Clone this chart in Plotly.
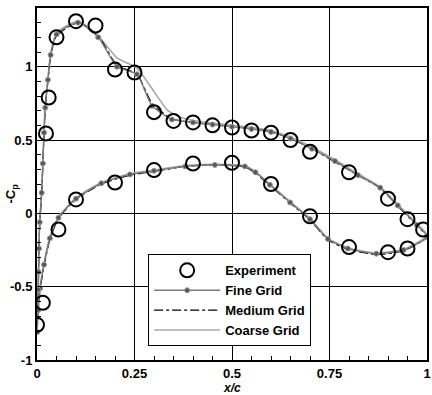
import plotly.graph_objects as go

# Experiment
exp_x = [0.0, 0.015, 0.023, 0.03, 0.05, 0.1, 0.15, 0.2, 0.25, 0.3, 0.35, 0.4, 0.45, 0.5, 0.55, 0.6, 0.65, 0.7, 0.8, 0.9, 0.95, 0.99,
         0.055, 0.1, 0.2, 0.3, 0.4, 0.5, 0.6, 0.7, 0.8, 0.9, 0.95]
exp_cp = [-0.76, -0.61, 0.545, 0.79, 1.2, 1.31, 1.28, 0.98, 0.96, 0.69, 0.63, 0.62, 0.60, 0.585, 0.565, 0.55, 0.50, 0.42, 0.28, 0.10, -0.04, -0.11,
          -0.11, 0.095, 0.21, 0.295, 0.34, 0.345, 0.2, -0.02, -0.23, -0.265, -0.24]

# Fine grid (loop: lower TE -> stagnation -> upper TE)
fine_x = [1.0, 0.94, 0.87, 0.797, 0.746, 0.70, 0.649, 0.597, 0.56, 0.533, 0.456, 0.38, 0.30, 0.238, 0.165, 0.10, 0.055, 0.033, 0.018, 0.008, 0.003,
          0.0,
          0.003, 0.004, 0.005, 0.007, 0.012, 0.015, 0.018, 0.021, 0.028, 0.035, 0.05, 0.105, 0.157, 0.205, 0.256, 0.295, 0.346, 0.40, 0.45, 0.50, 0.55, 0.60, 0.65, 0.705, 0.764, 0.823, 0.88, 0.925, 0.974, 1.0]
fine_cp = [-0.16, -0.25, -0.275, -0.24, -0.175, -0.04, 0.074, 0.195, 0.28, 0.32, 0.33, 0.32, 0.29, 0.265, 0.205, 0.10, -0.03, -0.17, -0.35, -0.51, -0.66,
           -0.81,
           -0.52, -0.40, -0.24, -0.06, 0.14, 0.34, 0.55, 0.72, 0.91, 1.08, 1.22, 1.30, 1.20, 1.0, 0.948, 0.733, 0.64, 0.62, 0.605, 0.59, 0.575, 0.555, 0.51, 0.44, 0.356, 0.26, 0.175, 0.054, -0.08, -0.16]

# Medium grid
med_x = [1.0, 0.94, 0.87, 0.797, 0.746, 0.70, 0.649, 0.597, 0.56, 0.533, 0.456, 0.38, 0.30, 0.238, 0.165, 0.10, 0.055, 0.033, 0.018, 0.008, 0.003,
         0.0,
         0.003, 0.004, 0.005, 0.007, 0.012, 0.015, 0.018, 0.021, 0.028, 0.035, 0.05, 0.105, 0.157, 0.205, 0.256, 0.295, 0.346, 0.40, 0.45, 0.50, 0.55, 0.60, 0.65, 0.705, 0.764, 0.823, 0.88, 0.925, 0.974, 1.0]
med_cp = [-0.16, -0.255, -0.28, -0.245, -0.18, -0.045, 0.07, 0.19, 0.275, 0.315, 0.33, 0.32, 0.285, 0.26, 0.20, 0.095, -0.035, -0.18, -0.36, -0.52, -0.67,
          -0.82,
          -0.53, -0.41, -0.25, -0.07, 0.13, 0.33, 0.54, 0.71, 0.90, 1.07, 1.21, 1.30, 1.21, 1.01, 0.95, 0.75, 0.645, 0.62, 0.605, 0.59, 0.575, 0.555, 0.51, 0.44, 0.35, 0.26, 0.17, 0.05, -0.085, -0.16]

# Coarse grid
coarse_x = [1.0, 0.94, 0.87, 0.797, 0.746, 0.70, 0.649, 0.597, 0.56, 0.533, 0.456, 0.38, 0.30, 0.238, 0.165, 0.10, 0.055, 0.033, 0.018, 0.008, 0.003,
            0.0,
            0.003, 0.004, 0.005, 0.007, 0.012, 0.015, 0.018, 0.021, 0.028, 0.035, 0.05, 0.105, 0.157, 0.205, 0.256, 0.30, 0.336, 0.38, 0.45, 0.50, 0.55, 0.60, 0.65, 0.705, 0.764, 0.823, 0.88, 0.925, 0.974, 1.0]
coarse_cp = [-0.15, -0.245, -0.27, -0.235, -0.17, -0.035, 0.08, 0.20, 0.285, 0.325, 0.335, 0.325, 0.295, 0.27, 0.21, 0.105, -0.025, -0.165, -0.34, -0.50, -0.65,
             -0.80,
             -0.51, -0.39, -0.23, -0.05, 0.15, 0.35, 0.56, 0.73, 0.92, 1.09, 1.23, 1.31, 1.21, 1.06, 0.99, 0.83, 0.70, 0.645, 0.615, 0.60, 0.585, 0.565, 0.52, 0.45, 0.365, 0.27, 0.18, 0.06, -0.07, -0.15]

fig = go.Figure()
fig.add_trace(go.Scatter(x=coarse_x, y=coarse_cp, mode="lines", name="Coarse Grid",
                         line=dict(color="#a8a8a8", width=1.6, shape="spline", smoothing=0.6)))
fig.add_trace(go.Scatter(x=med_x, y=med_cp, mode="lines", name="Medium Grid",
                         line=dict(color="black", width=1.2, dash="dashdot", shape="spline", smoothing=0.6)))
fig.add_trace(go.Scatter(x=fine_x, y=fine_cp, mode="lines+markers", name="Fine Grid",
                         line=dict(color="#7a7a7a", width=1.4, shape="spline", smoothing=0.6),
                         marker=dict(symbol="circle", size=5, color="#555555", line=dict(color="#999999", width=1))))
fig.add_trace(go.Scatter(x=exp_x, y=exp_cp, mode="markers", name="Experiment",
                         marker=dict(symbol="circle-open", size=14, color="black", line=dict(color="black", width=2))))

FONT = "Liberation Sans, Arial, sans-serif"

fig.update_layout(
    width=432, height=395,
    margin=dict(l=37, r=5, t=8, b=35),
    plot_bgcolor="white", paper_bgcolor="white",
    showlegend=True,
    legend=dict(
        x=0.285, y=0.30, xanchor="left", yanchor="top",
        bgcolor="white", bordercolor="black", borderwidth=1,
        font=dict(family=FONT, size=13, color="black", weight="bold"),
        traceorder="reversed", itemwidth=66, itemsizing="trace",
    ),
    xaxis=dict(
        range=[0, 1], tickvals=[0, 0.25, 0.5, 0.75, 1], ticktext=["0", "0.25", "0.5", "0.75", "1"],
        showgrid=True, gridcolor="black", gridwidth=1, automargin=False,
        showline=True, linecolor="black", linewidth=2, mirror=True,
        ticks="inside", ticklen=5, tickcolor="black", zeroline=False,
        minor=dict(dtick=0.05, ticks="inside", ticklen=4, tickcolor="black", showgrid=False),
        tickfont=dict(family=FONT, size=13, color="black", weight="bold"),
        ticklabelstandoff=0,
    ),
    yaxis=dict(
        range=[-1, 1.4], tickvals=[-1, -0.5, 0, 0.5, 1], ticktext=["-1", "-0.5", "0", "0.5", "1"],
        showgrid=True, gridcolor="black", gridwidth=1, automargin=False,
        showline=True, linecolor="black", linewidth=2, mirror=True,
        ticks="inside", ticklen=5, tickcolor="black", zeroline=False,
        minor=dict(dtick=0.1, ticks="inside", ticklen=4, tickcolor="black", showgrid=False),
        tickfont=dict(family=FONT, size=13, color="black", weight="bold"),
    ),
    annotations=[
        dict(text="<b><i>x/c</i></b>", xref="paper", yref="paper", x=0.5, y=0,
             xanchor="center", yanchor="top", yshift=-20, showarrow=False, borderpad=0,
             font=dict(family=FONT, size=12, color="black")),
        dict(text="<b>-C<sub>p</sub></b>", xref="paper", yref="paper", x=0, y=0.473,
             xanchor="center", yanchor="middle", xshift=-25, textangle=-90, showarrow=False,
             font=dict(family=FONT, size=13, color="black")),
    ],
)

fig.write_html("out.html")
